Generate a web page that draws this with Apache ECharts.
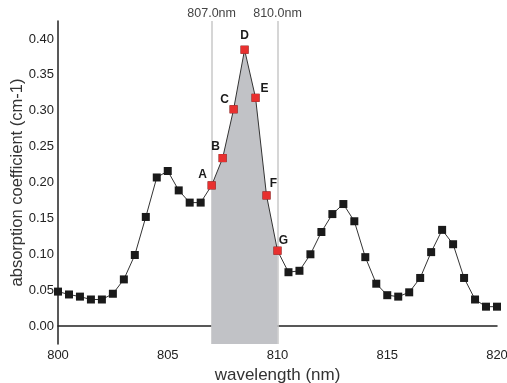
<!DOCTYPE html>
<html>
<head>
<meta charset="utf-8">
<script src="https://cdn.jsdelivr.net/npm/echarts@6/dist/echarts.min.js"></script>
<style>
html,body{margin:0;padding:0;background:#fff;}
#chart{width:507px;height:383px;}
</style>
</head>
<body>
<div id="chart"></div>
<script>
var myChart = echarts.init(document.getElementById('chart'));

// wavelength (nm), one reading every 0.5 nm
var wavelengths = [800,800.5,801,801.5,802,802.5,803,803.5,804,804.5,805,805.5,806,806.5,
    807,807.5,808,808.5,809,809.5,810,
    810.5,811,811.5,812,812.5,813,813.5,814,814.5,815,815.5,816,816.5,817,817.5,818,818.5,819,819.5,820];
var absorption = [0.048,0.044,0.041,0.037,0.037,0.045,0.065,0.099,0.152,0.207,0.216,0.189,0.172,0.172,
    0.196,0.234,0.302,0.385,0.318,0.182,0.105,
    0.075,0.077,0.100,0.131,0.156,0.170,0.146,0.096,0.059,0.043,0.041,0.047,0.067,0.103,0.134,0.114,0.067,0.037,0.027,0.027];
var pointLabels = ['A','B','C','D','E','F','G'];
var firstMarked = 14; // index of point A (807.0 nm)
var bandEdges = [807, 810];

// letter position relative to the centre of its point
var labelOffsets = [[-9,-11],[-7,-11],[-9,-10],[0,-14],[9,-9],[7,-12],[6,-10]];

var allPoints = wavelengths.map(function (w, i) { return [w, absorption[i]]; });
var bandPoints = allPoints.slice(firstMarked, firstMarked + pointLabels.length);
var redPoints = bandPoints.map(function (p, i) {
    return {
        value: p,
        label: {
            show: true,
            formatter: pointLabels[i],
            position: 'inside',
            offset: labelOffsets[i]
        }
    };
});

var option = {
    animation: false,
    textStyle: { fontFamily: 'Liberation Sans, Arial, sans-serif' },
    grid: { left: 58, right: 10, top: 21, bottom: 39, outerBoundsMode: 'none' },
    xAxis: {
        type: 'value',
        min: 800,
        max: 820,
        interval: 5,
        name: 'wavelength (nm)',
        nameLocation: 'middle',
        nameGap: 23,
        nameMoveOverlap: false,
        nameTextStyle: { fontSize: 17, color: '#333' },
        axisLine: { show: true, lineStyle: { color: '#222', width: 1.5 } },
        axisTick: { show: false },
        splitLine: { show: false },
        axisLabel: { fontSize: 13, color: '#222', margin: 5 }
    },
    yAxis: {
        type: 'value',
        min: -0.025,
        max: 0.425,
        interval: 0.025,
        name: 'absorption coefficient (cm-1)',
        nameLocation: 'middle',
        nameGap: 32,
        nameMoveOverlap: false,
        nameTextStyle: { fontSize: 16.5, color: '#333' },
        axisLine: { show: true, lineStyle: { color: '#222', width: 1.5 } },
        axisTick: { show: false },
        splitLine: { show: false },
        axisLabel: {
            fontSize: 13,
            color: '#222',
            margin: 4,
            formatter: function (v) {
                return Math.round(v * 1000) % 50 === 0 ? v.toFixed(2) : '';
            }
        }
    },
    series: [
        {
            // shaded band under the curve between the two markers
            type: 'line',
            data: bandPoints,
            z: 1,
            symbol: 'none',
            lineStyle: { width: 0 },
            areaStyle: { color: '#c1c2c6', opacity: 1, origin: 'start' },
            markLine: {
                silent: true,
                z: 1,
                symbol: 'none',
                lineStyle: { color: '#c8c8c8', width: 1.5, type: 'solid' },
                label: {
                    position: 'end',
                    distance: 1,
                    fontSize: 12.5,
                    color: '#444',
                    formatter: function (p) { return p.value.toFixed(1) + 'nm'; }
                },
                data: bandEdges.map(function (e) { return { xAxis: e }; })
            }
        },
        {
            type: 'line',
            data: allPoints,
            z: 2,
            symbol: 'rect',
            symbolSize: 8,
            itemStyle: { color: '#1a1a1a' },
            lineStyle: { color: '#333', width: 1 }
        },
        {
            type: 'scatter',
            data: redPoints,
            z: 3,
            symbol: 'rect',
            symbolSize: 8,
            itemStyle: { color: '#e8302f', opacity: 1 },
            label: { fontSize: 12, fontWeight: 'bold', color: '#1a1a1a' }
        }
    ]
};

myChart.setOption(option);
</script>
</body>
</html>
